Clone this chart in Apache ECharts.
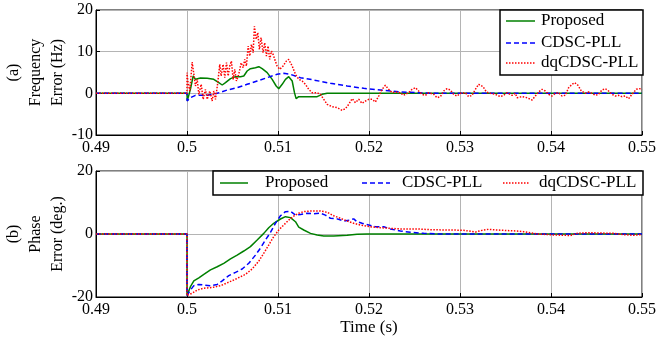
<!DOCTYPE html>
<html>
<head>
<meta charset="utf-8">
<script src="https://cdn.jsdelivr.net/npm/echarts@6/dist/echarts.min.js"></script>
<style>html,body{margin:0;padding:0;background:#fff;}#c{width:657px;height:340px;}</style>
</head>
<body>
<div id="c"></div>
<script>
// ---- data (time in s, value) ----
const seriesNames = ['Proposed', 'CDSC-PLL', 'dqCDSC-PLL'];
const xTicks = [0.49, 0.5, 0.51, 0.52, 0.53, 0.54, 0.55];
const freqTicks = [-10, 0, 10, 20];
const phaseTicks = [-20, 0, 20];

const freqProposed = [[0.49,0],[0.5,0],[0.50003,-1.8],[0.50038,1.0],[0.50068,4.16],[0.50093,3.36],[0.50148,3.68],[0.50222,3.6],[0.50294,3.36],[0.50349,2.56],[0.50387,2.0],[0.50423,2.56],[0.50478,3.52],[0.50533,4.0],[0.50588,4.0],[0.50624,4.16],[0.50661,5.36],[0.50697,5.92],[0.50752,6.16],[0.50789,6.4],[0.50826,5.92],[0.50881,4.96],[0.50936,3.36],[0.5098,1.76],[0.51008,1.12],[0.51046,2.16],[0.51082,3.36],[0.51118,4.0],[0.51156,2.96],[0.51181,0.16],[0.51199,-1.28],[0.51228,-0.8],[0.5143,-0.8],[0.51485,-0.24],[0.5154,0],[0.55,0]];

const freqCDSC = [[0.49,0],[0.5,0],[0.50002,-1.84],[0.50038,-1.04],[0.50093,-0.48],[0.50222,-0.48],[0.50332,0],[0.50442,0.8],[0.50552,1.36],[0.50661,2.16],[0.50771,2.96],[0.50881,3.76],[0.5099,4.56],[0.51063,4.8],[0.51137,4.56],[0.51247,3.76],[0.51393,3.2],[0.51576,2.4],[0.5176,1.76],[0.51942,1.2],[0.52125,0.8],[0.52271,0.48],[0.52345,0.32],[0.52708,0],[0.55,0]];

const freqDQ = [[0.49,0],[0.5,0],[0.5,4.96],[0.50009,2.96],[0.50031,0.56],[0.50057,7.5],[0.50093,1.76],[0.50112,3.36],[0.5013,-0.24],[0.50156,2.16],[0.50178,-1.44],[0.50203,0.96],[0.50222,-1.44],[0.5025,0.56],[0.50277,-1.84],[0.50294,0.56],[0.50313,-1.44],[0.50338,2.56],[0.5036,6.95],[0.50375,4.16],[0.50397,6.95],[0.50415,3.76],[0.50434,7.35],[0.50452,4.16],[0.5047,6.55],[0.50488,7.75],[0.50507,3.36],[0.50525,5.76],[0.50543,2.96],[0.50569,4.56],[0.50595,7.35],[0.50617,6.15],[0.50635,8.15],[0.50653,6.55],[0.50672,11.35],[0.5069,8.95],[0.50708,11.75],[0.50727,9.75],[0.50741,16.1],[0.5076,12.95],[0.50778,14.55],[0.50796,10.55],[0.50814,13.35],[0.50836,9.75],[0.50854,12.15],[0.50873,8.95],[0.50891,11.35],[0.50909,8.15],[0.50928,10.15],[0.50946,9.35],[0.50964,8.15],[0.5099,6.55],[0.51019,5.76],[0.51056,6.55],[0.51092,7.75],[0.51117,8.15],[0.51156,6.55],[0.51192,4.56],[0.51228,3.36],[0.51265,2.96],[0.51302,2.16],[0.51338,0.96],[0.51375,0.16],[0.5143,0.16],[0.51466,-0.24],[0.51503,-1.44],[0.5154,-2.64],[0.51595,-3.2],[0.5165,-3.44],[0.51705,-4.08],[0.51741,-3.68],[0.51777,-2.64],[0.51815,-1.28],[0.51851,-2.24],[0.51887,-1.44],[0.51924,-2.4],[0.51961,-1.84],[0.51997,-1.44],[0.52034,-1.44],[0.5207,-2.08],[0.52107,-0.64],[0.52144,0.96],[0.5218,1.92],[0.52217,0.96],[0.52254,0.16],[0.5229,0.32],[0.52345,0.16],[0.52378,-0.48],[0.52436,0.16],[0.52474,0.96],[0.5251,1.36],[0.52546,0.56],[0.52583,-0.24],[0.5262,-0.48],[0.52656,0.16],[0.52711,-0.24],[0.52748,-1.04],[0.52785,-0.8],[0.52821,0.56],[0.52858,1.12],[0.52894,0.8],[0.5293,-0.24],[0.52968,-0.64],[0.53004,0],[0.53059,0.16],[0.53095,-0.8],[0.53133,-0.48],[0.53169,0.96],[0.53205,2.16],[0.53224,2.4],[0.53253,1.6],[0.5329,0.32],[0.53334,0],[0.53389,-0.24],[0.53444,-0.8],[0.5348,-0.48],[0.53517,0.16],[0.53572,-0.48],[0.53608,0],[0.53627,-1.04],[0.53682,-0.8],[0.53737,-1.04],[0.53792,-1.6],[0.53828,-0.64],[0.53864,0.32],[0.53902,0.96],[0.53938,0.56],[0.53974,-0.24],[0.54011,-0.64],[0.54048,0],[0.54084,0.16],[0.54121,-0.64],[0.54157,-0.48],[0.54194,1.36],[0.54231,2.16],[0.5426,2.56],[0.54297,1.92],[0.54333,0.56],[0.54377,0],[0.54413,0.32],[0.54451,0],[0.54487,-0.48],[0.54523,-0.24],[0.5456,0.8],[0.54597,1.12],[0.54633,0.56],[0.5467,-0.24],[0.54707,-0.64],[0.54743,-0.48],[0.5478,-0.8],[0.54816,-0.64],[0.54853,-1.28],[0.5489,-0.24],[0.54937,0.96],[0.54974,1.12],[0.55,0.8]];

const phaseProposed = [[0.49,0],[0.5,0],[0.5,-19.5],[0.50038,-16.7],[0.50075,-14.9],[0.5013,-13.9],[0.50185,-12.8],[0.50258,-11.4],[0.50332,-10.4],[0.50404,-9.3],[0.50478,-7.9],[0.50551,-6.7],[0.50624,-5.4],[0.50697,-4.0],[0.50771,-1.9],[0.50844,0.2],[0.50898,2.0],[0.50953,3.4],[0.51027,4.76],[0.51082,5.5],[0.51137,5.2],[0.51192,3.9],[0.51228,2.2],[0.51283,1.27],[0.51357,0.2],[0.5143,-0.32],[0.51503,-0.63],[0.51612,-0.6],[0.5176,-0.42],[0.51869,-0.1],[0.51979,0],[0.55,0]];

const phaseCDSC = [[0.49,0],[0.5,0],[0.5,-19.5],[0.50038,-17.8],[0.50075,-16.4],[0.5013,-16.0],[0.50185,-16.2],[0.50258,-16.4],[0.50332,-16.0],[0.50387,-14.9],[0.50459,-13.2],[0.50533,-12.2],[0.50606,-11.1],[0.50679,-9.3],[0.50752,-6.7],[0.50807,-4.5],[0.50862,-1.9],[0.50917,0.5],[0.50972,3.4],[0.51027,5.8],[0.51082,7.1],[0.51137,7.2],[0.51192,6.0],[0.51247,6.2],[0.5132,6.6],[0.51393,6.4],[0.51466,6.6],[0.51521,6.0],[0.51576,5.0],[0.5165,4.8],[0.51722,4.1],[0.51777,4.4],[0.51832,4.8],[0.51869,3.9],[0.51924,3.4],[0.51997,2.86],[0.5207,2.3],[0.52162,2.3],[0.52235,1.6],[0.52345,0.95],[0.52455,0.53],[0.52601,0.2],[0.52785,0],[0.55,0]];

const phaseDQ = [[0.49,0],[0.5,0],[0.5,-19.5],[0.50057,-18.8],[0.50112,-17.8],[0.50185,-17.2],[0.50277,-17.0],[0.50368,-16.4],[0.50459,-15.3],[0.50551,-14.1],[0.50643,-12.8],[0.50716,-11.1],[0.50789,-8.6],[0.50844,-6.1],[0.50898,-3.5],[0.50953,-0.85],[0.51008,1.27],[0.51063,2.86],[0.51118,4.4],[0.51173,5.7],[0.51228,6.6],[0.51283,7.1],[0.51357,7.3],[0.51466,7.3],[0.5154,6.9],[0.51612,5.8],[0.51686,5.0],[0.5176,4.1],[0.51832,3.4],[0.51906,2.86],[0.52016,2.3],[0.52125,2.0],[0.52235,1.8],[0.52345,1.6],[0.52529,1.6],[0.52675,1.37],[0.52858,1.27],[0.53037,1.2],[0.53169,0.63],[0.5326,1.27],[0.53315,1.48],[0.53444,1.2],[0.53627,0.95],[0.537,0.74],[0.53773,0.42],[0.53847,0],[0.5403,-0.3],[0.5414,-0.4],[0.54213,-0.5],[0.54286,0.2],[0.54396,0.42],[0.54688,0.2],[0.54798,-0.2],[0.54908,-0.4],[0.54981,-0.2],[0.55,-0.2]];

// ---- chart ----
const FONT = 'Liberation Serif';
const colors = ['#008000', '#0000ff', '#ff0000'];
const lineTypes = ['solid', [5, 3], [1.5, 1.5]];
const chart = echarts.init(document.getElementById('c'), null, {renderer: 'canvas'});

function xAxisDef(gridIndex, withName) {
  return {
    type: 'value', gridIndex: gridIndex,
    min: xTicks[0], max: xTicks[xTicks.length - 1], interval: 0.01,
    axisLine: {show: true, onZero: false, lineStyle: {color: '#000', width: 1}},
    axisTick: {show: true, inside: true, length: 4, lineStyle: {color: '#000'}},
    axisLabel: {color: '#000', fontFamily: FONT, fontSize: 16, margin: 5,
      formatter: v => String(+v.toFixed(2))},
    splitLine: {show: true, lineStyle: {color: '#b4b4b4', width: 1}},
    name: withName ? 'Time (s)' : '', nameLocation: 'middle', nameGap: 22, nameMoveOverlap: false,
    nameTextStyle: {color: '#000', fontFamily: FONT, fontSize: 17}
  };
}
function yAxisDef(gridIndex, ticks, name) {
  return {
    type: 'value', gridIndex: gridIndex,
    min: ticks[0], max: ticks[ticks.length - 1], interval: ticks[1] - ticks[0],
    axisLine: {show: true, lineStyle: {color: '#000', width: 1}},
    axisTick: {show: true, inside: true, length: 4, lineStyle: {color: '#000'}},
    axisLabel: {color: '#000', fontFamily: FONT, fontSize: 16, margin: 3},
    splitLine: {show: true, lineStyle: {color: '#b4b4b4', width: 1}},
    name: name, nameLocation: 'middle', nameRotate: 90, nameGap: 27, nameMoveOverlap: false,
    nameTextStyle: {color: '#000', fontFamily: FONT, fontSize: 16, lineHeight: 22, align: 'center'}
  };
}
function mkSeries(name, data, idx, axisIdx) {
  return {
    name: name, type: 'line', data: data, xAxisIndex: axisIdx, yAxisIndex: axisIdx,
    symbol: 'none', smooth: false, animation: false,
    lineStyle: {color: colors[idx], width: 1.5, type: lineTypes[idx]},
    itemStyle: {color: colors[idx]}, z: 2 + idx
  };
}
const allFreq = [freqProposed, freqCDSC, freqDQ];
const allPhase = [phaseProposed, phaseCDSC, phaseDQ];
const series = [];
seriesNames.forEach((n, i) => series.push(mkSeries(n, allFreq[i], i, 0)));
seriesNames.forEach((n, i) => series.push(mkSeries(n, allPhase[i], i, 1)));

// legend drawn as graphic entries (line sample + text)
function legendEntry(i, x1, x2, y, tx) {
  const dash = Array.isArray(lineTypes[i]) ? lineTypes[i] : null;
  return [
    {type: 'line', z: 61, shape: {x1: x1, y1: y, x2: x2, y2: y},
      style: {stroke: colors[i], lineWidth: 1.5, lineDash: dash}},
    {type: 'text', z: 61, x: tx, y: y,
      style: {text: seriesNames[i], fill: '#000', font: '17px "' + FONT + '"', textVerticalAlign: 'middle', verticalAlign: 'middle'}}
  ];
}
const graphics = [
  {type: 'rect', shape: {x: 500, y: 10, width: 143, height: 65}, z: 60,
    style: {fill: '#fff', stroke: '#000', lineWidth: 1.5}},
  {type: 'rect', shape: {x: 213, y: 171, width: 430, height: 24}, z: 60,
    style: {fill: '#fff', stroke: '#000', lineWidth: 1.5}}
].concat(
  legendEntry(0, 506, 535, 21, 541),
  legendEntry(1, 506, 535, 43, 541),
  legendEntry(2, 506, 535, 63, 541),
  legendEntry(0, 220, 248, 183, 265),
  legendEntry(1, 362, 390, 183, 402),
  legendEntry(2, 503, 530, 183, 539)
);

const option = {
  animation: false,
  backgroundColor: '#fff',
  grid: [
    {left: 96, right: 15, top: 10, height: 125, show: true, borderColor: '#000', borderWidth: 1,
      containLabel: false, outerBoundsMode: 'none'},
    {left: 96, right: 15, top: 171, height: 126, show: true, borderColor: '#000', borderWidth: 1,
      containLabel: false, outerBoundsMode: 'none'}
  ],
  xAxis: [xAxisDef(0, false), xAxisDef(1, true)],
  yAxis: [yAxisDef(0, freqTicks, '(a)\nFrequency\nError (Hz)'), yAxisDef(1, phaseTicks, '(b)\nPhase\nError (deg.)')],
  graphic: graphics,
  series: series
};
chart.setOption(option);
</script>
</body>
</html>
